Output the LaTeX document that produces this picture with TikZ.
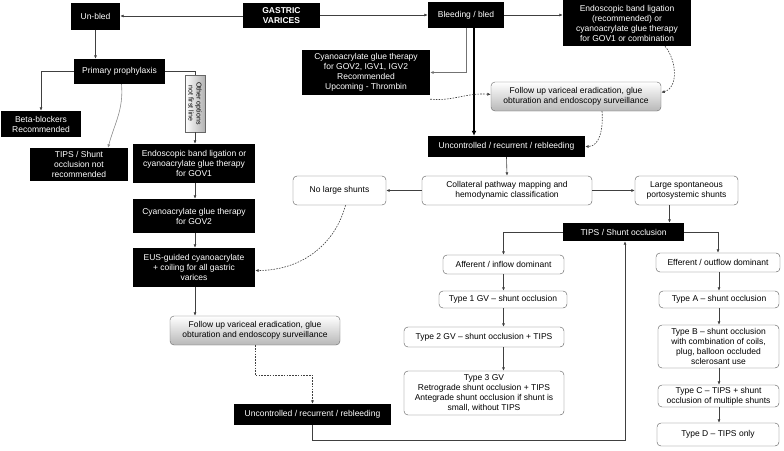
\documentclass[tikz,border=0pt]{standalone}
\usepackage{fontspec}
\setmainfont{Liberation Sans}
\usetikzlibrary{arrows.meta}

\tikzset{
  blk/.style={fill=black,text=white,align=center,inner sep=1pt},
  wbox/.style={draw=black!65,rounded corners=4pt,fill=white,align=center,inner sep=1pt},
  gbox/.style={draw=black!60,rounded corners=4pt,top color=white,bottom color=black!28,align=center,inner sep=1pt},
  arr/.style={-{Latex[length=3.5pt,width=3pt]},black!75,line width=0.6pt},
  dsh/.style={arr,dash pattern=on 1.6pt off 1.2pt}
}

\begin{document}
\begin{tikzpicture}[x=1pt,y=-1pt,font=\fontsize{8.5}{10}\selectfont]
\useasboundingbox (0,0) rectangle (784,450);

% top row
\node[blk,minimum width=77pt,minimum height=25pt,font=\fontsize{8.5}{10}\selectfont\bfseries] (gv) at (281.5,15.5) {GASTRIC\\VARICES};
\node[blk,minimum width=49pt,minimum height=27pt] (unbled) at (95.5,16) {Un-bled};
\node[blk,minimum width=76pt,minimum height=26pt] (bled) at (466,15) {Bleeding / bled};
\node[blk,minimum width=128pt,minimum height=46pt] (endoR) at (627,23) {Endoscopic band ligation\\(recommended) or\\cyanoacrylate glue therapy\\for GOV1 or combination};
\node[blk,minimum width=128pt,minimum height=45pt] (glueR) at (366,72.5) {Cyanoacrylate glue therapy\\for GOV2, IGV1, IGV2\\Recommended\\Upcoming - Thrombin};
\node[gbox,minimum width=170pt,minimum height=29pt] (followR) at (576,96.5) {Follow up variceal eradication, glue\\obturation and endoscopy surveillance};
\node[blk,minimum width=157pt,minimum height=21pt] (uncR) at (506.5,146.5) {Uncontrolled / recurrent / rebleeding};

% shunt mapping
\node[wbox,minimum width=170pt,minimum height=29pt] (coll) at (507,190.5) {Collateral pathway mapping and\\hemodynamic classification};
\node[wbox,minimum width=93pt,minimum height=29pt] (nolarge) at (339.5,190.5) {No large shunts};
\node[wbox,minimum width=103pt,minimum height=29pt] (largesp) at (686.5,190.5) {Large spontaneous\\portosystemic shunts};
\node[blk,minimum width=121pt,minimum height=18pt] (tips) at (623.5,232) {TIPS / Shunt occlusion};

\node[wbox,minimum width=121pt,minimum height=19pt] (aff) at (503.5,264.5) {Afferent / inflow dominant};
\node[wbox,minimum width=128pt,minimum height=17pt] (type1) at (503,299.5) {Type 1 GV -- shunt occlusion};
\node[wbox,minimum width=160pt,minimum height=20pt] (type2) at (484,337) {Type 2 GV -- shunt occlusion + TIPS};
\node[wbox,minimum width=160pt,minimum height=44pt] (type3) at (484,393) {Type 3 GV\\Retrograde shunt occlusion + TIPS\\Antegrade shunt occlusion if shunt is\\small, without TIPS};

\node[wbox,minimum width=124pt,minimum height=19pt] (eff) at (718,262.5) {Efferent / outflow dominant};
\node[wbox,minimum width=120pt,minimum height=17pt] (typeA) at (719,299.5) {Type A -- shunt occlusion};
\node[wbox,minimum width=121pt,minimum height=43pt] (typeB) at (718.5,346.5) {Type B -- shunt occlusion\\with combination of coils,\\plug, balloon occluded\\sclerosant use};
\node[wbox,minimum width=121pt,minimum height=22pt] (typeC) at (718.5,396) {Type C -- TIPS + shunt\\occlusion of multiple shunts};
\node[wbox,minimum width=122pt,minimum height=23pt] (typeD) at (718,434.5) {Type D -- TIPS only};

% left branch
\node[blk,minimum width=91pt,minimum height=25pt] (prim) at (119.5,71.5) {Primary prophylaxis};
\node[blk,minimum width=80pt,minimum height=26pt] (beta) at (41,124) {Beta-blockers\\Recommended};
\node[blk,minimum width=98pt,minimum height=33pt] (tipsnr) at (79,164.5) {TIPS / Shunt\\occlusion not\\recommended};
\node[blk,minimum width=122pt,minimum height=39pt] (endoL) at (194,163.5) {Endoscopic band ligation or\\cyanoacrylate glue therapy\\for GOV1};
\node[blk,minimum width=122pt,minimum height=34pt] (glueL) at (194,216) {Cyanoacrylate glue therapy\\for GOV2};
\node[blk,minimum width=122pt,minimum height=39pt] (eus) at (194,267.5) {EUS-guided cyanoacrylate\\+ coiling for all gastric\\varices};
\node[gbox,minimum width=170pt,minimum height=29pt] (followL) at (255,330.5) {Follow up variceal eradication, glue\\obturation and endoscopy surveillance};
\node[blk,minimum width=157pt,minimum height=21pt] (uncL) at (312.5,414.5) {Uncontrolled / recurrent / rebleeding};
\node[draw=black!60,left color=white,right color=black!30,rotate=-90,minimum width=57pt,minimum height=20pt,inner sep=0.5pt,align=center,font=\fontsize{7}{8}\selectfont] (other) at (195,103.5) {Other options\\not first line};

% connectors
\draw[arr] (gv.west |- unbled.east) -- (unbled.east);
\draw[arr] (gv.east |- bled.west) -- (bled.west);
\draw[arr] (bled.east) -- (bled.east -| endoR.west);
\draw[arr,black,line width=1.5pt,-{Latex[length=5pt,width=5pt]}] ([xshift=8pt]bled.south) -- ([xshift=8pt]bled.south |- uncR.north);
\draw[arr,black!55] (bled.south) |- (glueR.east);
\draw[dsh] ([yshift=-4pt]glueR.south east) to[out=-5,in=175] ([yshift=2pt]followR.west);
\draw[dsh] ([xshift=38pt]endoR.south) to[out=-50,in=15] ([yshift=4pt]followR.east);
\draw[dsh] ([xshift=26pt]followR.south) to[out=-85,in=0] (uncR.east);
\draw[arr] (uncR.south) -- (coll.north);
\draw[arr] (coll.west) -- (nolarge.east);
\draw[arr] (coll.east) -- (largesp.west);
\draw[arr] ([xshift=-17pt]largesp.south) -- ([xshift=-17pt]largesp.south |- tips.north);
\draw[arr] (tips.west) -| (aff.north);
\draw[arr] (tips.east) -| (eff.north);
\draw[arr] (aff.south) -- (aff.south |- type1.north);
\draw[arr] (aff.south |- type1.south) -- (aff.south |- type2.north);
\draw[arr] (aff.south |- type2.south) -- (aff.south |- type3.north);
\draw[arr] ([xshift=1pt]eff.south) -- ([xshift=1pt]eff.south |- typeA.north);
\draw[arr] ([xshift=1pt]eff.south |- typeA.south) -- ([xshift=1pt]eff.south |- typeB.north);
\draw[arr] ([xshift=1pt]eff.south |- typeB.south) -- ([xshift=1pt]eff.south |- typeC.north);
\draw[arr] ([xshift=1pt]eff.south |- typeC.south) -- ([xshift=1pt]eff.south |- typeD.north);
\draw[arr] (uncL.south) -- ++(0,15) -| ([xshift=1.5pt]tips.south);

\draw[arr] (unbled.south) -- (unbled.south |- prim.north);
\draw[arr] (prim.west) -| (beta.north);
\draw[arr,black!45] ([xshift=2pt]prim.south) to[out=-85,in=75] ([xshift=29pt]tipsnr.north);
\draw[black!75,line width=0.6pt] (prim.east) -| (other.west);
\draw[arr] (other.east) -- (other.east |- endoL.north);
\draw[arr] ([xshift=1pt]endoL.south) -- ([xshift=1pt]endoL.south |- glueL.north);
\draw[arr] ([xshift=1pt]glueL.south) -- ([xshift=1pt]glueL.south |- eus.north);
\draw[arr] ([xshift=1pt]eus.south) -- ([xshift=1pt]eus.south |- followL.north);
\draw[dsh] ([xshift=6pt]nolarge.south) to[out=-105,in=0] ([yshift=-3pt]eus.east);
\draw[dsh] (followL.south) -- ++(0,30) -| (uncL.north);

\end{tikzpicture}
\end{document}
